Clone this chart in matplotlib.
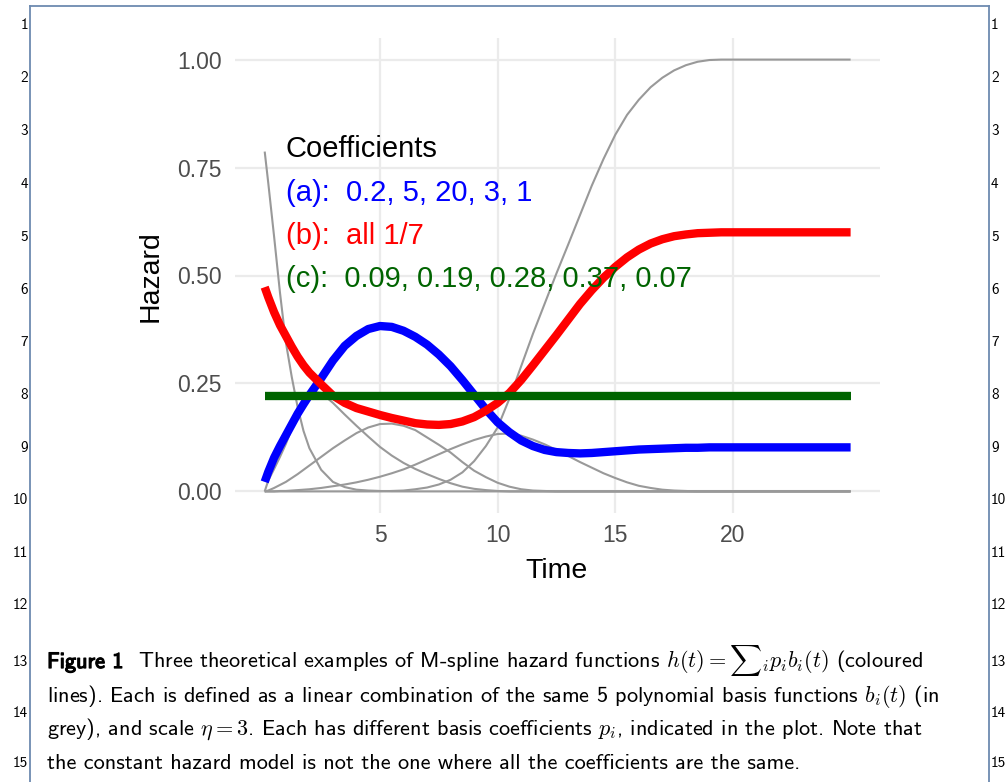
import matplotlib
matplotlib.use('Agg')
import matplotlib.pyplot as plt
import matplotlib.patheffects as pe

W, H = 1006, 782

# time grid the curves were read on
time = [0.1, 0.25, 0.5, 0.75, 1.0, 1.25, 1.5, 1.75, 2.0,
        2.5, 3.0, 3.5, 4.0, 4.5, 5.0,
        5.5, 6.0, 6.5, 7.0, 7.5, 8.0, 8.5, 9.0, 9.5, 10.0,
        10.5, 11.0, 11.5, 12.0, 12.5, 13.0, 13.5, 14.0, 14.5, 15.0,
        15.5, 16.0, 16.5, 17.0, 17.5, 18.0, 18.5, 19.0, 19.5, 20.0,
        22.5, 25.0]

# grey basis functions b_i(t)
basis1 = [0.787, 0.715, 0.59, 0.46, 0.345, 0.265, 0.195, 0.14, 0.10,
          0.05, 0.022, 0.01, 0.004, 0.002, 0.001,
          0, 0, 0, 0, 0, 0, 0, 0, 0, 0,
          0, 0, 0, 0, 0, 0, 0, 0, 0, 0,
          0, 0, 0, 0, 0, 0, 0, 0, 0, 0,
          0, 0]
basis2 = [0.0, 0.025, 0.052, 0.08, 0.11, 0.145, 0.185, 0.212, 0.232,
          0.228, 0.205, 0.178, 0.152, 0.127, 0.103,
          0.083, 0.066, 0.052, 0.04, 0.029, 0.019, 0.011, 0.006, 0.003, 0.001,
          0, 0, 0, 0, 0, 0, 0, 0, 0, 0,
          0, 0, 0, 0, 0, 0, 0, 0, 0, 0,
          0, 0]
basis3 = [0.0, 0.002, 0.008, 0.015, 0.022, 0.031, 0.04, 0.05, 0.06,
          0.08, 0.1, 0.118, 0.135, 0.148, 0.156,
          0.157, 0.152, 0.142, 0.125, 0.108, 0.09, 0.068, 0.048, 0.033, 0.02,
          0.011, 0.005, 0.002, 0.001, 0, 0, 0, 0, 0, 0,
          0, 0, 0, 0, 0, 0, 0, 0, 0, 0,
          0, 0]
basis4 = [0, 0, 0, 0.001, 0.001, 0.002, 0.003, 0.004, 0.005,
          0.008, 0.012, 0.016, 0.021, 0.027, 0.034,
          0.042, 0.051, 0.062, 0.074, 0.086, 0.098, 0.109, 0.119, 0.127, 0.133,
          0.134, 0.129, 0.12, 0.109, 0.096, 0.082, 0.068, 0.055, 0.042, 0.031,
          0.021, 0.013, 0.008, 0.004, 0.002, 0.001, 0, 0, 0, 0,
          0, 0]
basis5 = [0, 0, 0, 0, 0, 0, 0, 0, 0,
          0, 0, 0, 0, 0, 0,
          0.001, 0.002, 0.005, 0.009, 0.016, 0.027, 0.044, 0.07, 0.105, 0.148,
          0.215, 0.29, 0.365, 0.435, 0.505, 0.572, 0.64, 0.708, 0.77, 0.826,
          0.872, 0.907, 0.936, 0.958, 0.975, 0.987, 0.995, 0.999, 1.0, 1.0,
          1.0, 1.0]

# coloured hazard curves
haz_a = [0.022, 0.045, 0.078, 0.105, 0.13, 0.155, 0.18, 0.202, 0.223,
         0.262, 0.303, 0.337, 0.36, 0.376, 0.383,
         0.381, 0.372, 0.358, 0.34, 0.317, 0.29, 0.258, 0.224, 0.19, 0.16,
         0.137, 0.118, 0.105, 0.096, 0.091, 0.089, 0.088, 0.089, 0.091, 0.093,
         0.095, 0.097, 0.098, 0.099, 0.1, 0.101, 0.101, 0.102, 0.102, 0.102,
         0.102, 0.102]
haz_b = [0.473, 0.45, 0.415, 0.385, 0.36, 0.335, 0.312, 0.292, 0.275,
         0.248, 0.222, 0.205, 0.193, 0.185, 0.177,
         0.17, 0.164, 0.158, 0.155, 0.154, 0.156, 0.162, 0.172, 0.187, 0.205,
         0.228, 0.258, 0.292, 0.327, 0.362, 0.398, 0.434, 0.466, 0.495, 0.52,
         0.542, 0.56, 0.574, 0.584, 0.591, 0.595, 0.598, 0.599, 0.6, 0.6,
         0.6, 0.6]
haz_c_time = [0.1, 25.0]
haz_c = [0.222, 0.222]

coef_labels = ['(a):  0.2, 5, 20, 3, 1', '(b):  all 1/7',
               '(c):  0.09, 0.19, 0.28, 0.37, 0.07']
coef_y = [0.7, 0.6, 0.5]
coef_cols = ['#0000FF', '#FF0000', '#006400']

xticks = [5, 10, 15, 20]
yticks = [0.0, 0.25, 0.5, 0.75, 1.0]
ytick_labels = ['0.00', '0.25', '0.50', '0.75', '1.00']

line_no = list(range(1, 16))
line_no_y = [25, 78, 131, 184, 237, 290, 342, 395, 448, 500, 553, 605, 662, 713, 763]

caption = [
    r"Three theoretical examples of M-spline hazard functions $h(t) = {\sum}_i p_i b_i(t)$ (coloured",
    r"lines). Each is defined as a linear combination of the same 5 polynomial basis functions $b_i(t)$ (in",
    r"grey), and scale $\eta = 3$. Each has different basis coefficients $p_i$, indicated in the plot. Note that",
    "the constant hazard model is not the one where all the coefficients are the same.",
]
caption_y = [668, 702, 735, 769]

plt.rcParams['mathtext.fontset'] = 'cm'
plt.rcParams['axes.unicode_minus'] = False


def fx(px):
    return px / W


def fy(py):
    return 1 - py / H


fig = plt.figure(figsize=(W / 100, H / 100), dpi=100)
fig.patch.set_facecolor('white')

# page frame of the manuscript
frame = '#6d8ab0'
fig.add_artist(plt.Line2D([fx(30), fx(30)], [fy(6), 0], color=frame, lw=1.3))
fig.add_artist(plt.Line2D([fx(989), fx(989)], [fy(6), 0], color=frame, lw=1.3))
fig.add_artist(plt.Line2D([fx(30), fx(989)], [fy(6), fy(6)], color=frame, lw=1.3))

for n, yy in zip(line_no, line_no_y):
    fig.text(fx(28), fy(yy), str(n), ha='right', va='center', fontsize=11, family='cmss10')
    fig.text(fx(991), fy(yy), str(n), ha='left', va='center', fontsize=11, family='cmss10')

# the plot panel
ax = fig.add_axes([fx(235.4), fy(513), 644.5 / W, 475 / H])
ax.set_xlim(-1.145, 26.245)
ax.set_ylim(-0.05, 1.05)
for s in ax.spines.values():
    s.set_visible(False)
ax.set_xticks(xticks)
ax.set_yticks(yticks)
ax.set_yticklabels(ytick_labels)
ax.tick_params(length=0, labelsize=16.5, labelcolor='#4D4D4D')
ax.tick_params(axis='y', pad=10)
ax.tick_params(axis='x', pad=8)
for lab in ax.get_xticklabels() + ax.get_yticklabels():
    lab.set_family('Liberation Sans')
ax.grid(True, color='#EBEBEB', lw=1.6)
ax.set_axisbelow(True)

for b in [basis1, basis2, basis3, basis4, basis5]:
    ax.plot(time, b, color='#999999', lw=1.5, solid_capstyle='butt', zorder=2)

ax.plot(time, haz_a, color='#0000FF', lw=6, solid_capstyle='butt', zorder=3)
ax.plot(time, haz_b, color='#FF0000', lw=6, solid_capstyle='butt', zorder=4)
ax.plot(haz_c_time, haz_c, color='#006400', lw=6, solid_capstyle='butt', zorder=5)

ax.text(1, 0.792, 'Coefficients', color='black', fontsize=21, family='Liberation Sans',
        ha='left', va='center', zorder=6)
for lab, yy, col in zip(coef_labels, coef_y, coef_cols):
    ax.text(1, yy - 0.008, lab, color=col, fontsize=21, family='Liberation Sans',
            ha='left', va='center', zorder=6)

fig.text(fx(557), fy(571), 'Time', fontsize=20.5, family='Liberation Sans', ha='center', va='center')
fig.text(fx(151), fy(276), 'Hazard', fontsize=20.5, family='Liberation Sans', ha='center', va='center',
         rotation=90)

# caption
cap_fs = 16
fig.text(fx(47), fy(caption_y[0]), 'Figure 1', fontsize=cap_fs, family='cmss10', va='baseline',
         path_effects=[pe.withStroke(linewidth=0.9, foreground='black')])
fig.text(fx(138), fy(caption_y[0]), caption[0], fontsize=cap_fs, family='cmss10', va='baseline')
for txt, yy in zip(caption[1:], caption_y[1:]):
    fig.text(fx(47), fy(yy), txt, fontsize=cap_fs, family='cmss10', va='baseline')

fig.savefig('out.png', dpi=100)
